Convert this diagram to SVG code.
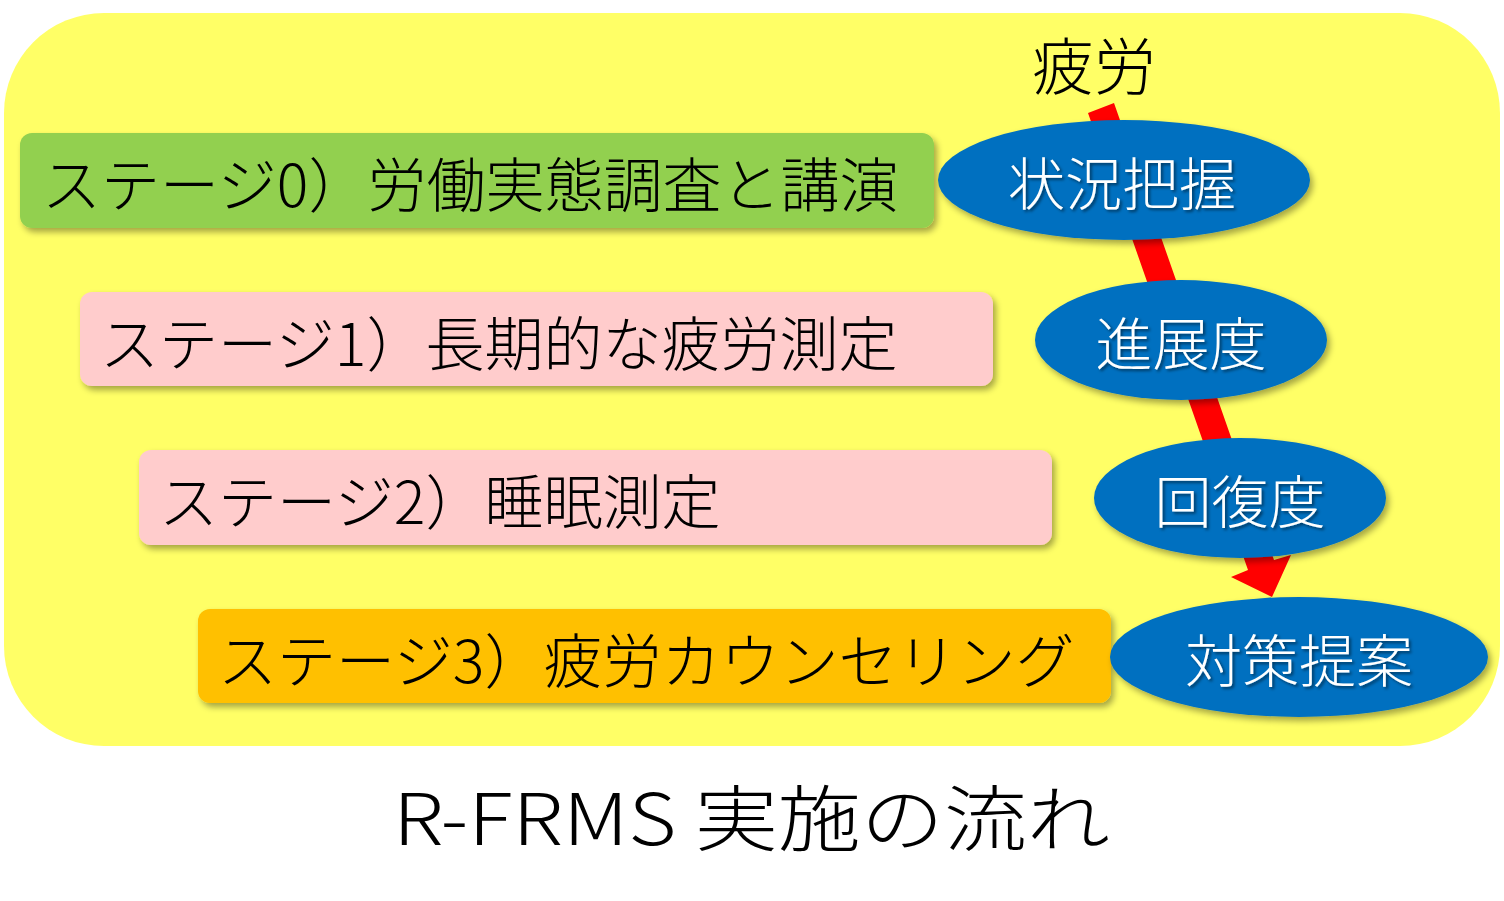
<svg xmlns="http://www.w3.org/2000/svg" width="1504" height="901" viewBox="0 0 1504 901">
<defs>
<filter id="sh" x="-10%" y="-20%" width="125%" height="150%">
<feDropShadow dx="3" dy="4" stdDeviation="3" flood-color="#000" flood-opacity="0.35"/>
</filter>
<filter id="tsh" x="-10%" y="-20%" width="125%" height="150%">
<feDropShadow dx="2" dy="2" stdDeviation="1.5" flood-color="#000" flood-opacity="0.5"/>
</filter>
<style>
.t{font-family:"Noto Sans CJK JP","Noto Sans",sans-serif;font-size:59px;font-weight:300;fill:#000}
.e{fill:#0070C0;filter:url(#sh)}
.et{font-family:"Noto Sans CJK JP","Noto Sans",sans-serif;font-size:57px;font-weight:300;fill:#fff;text-anchor:middle;filter:url(#tsh)}
.box{filter:url(#sh)}
</style>
</defs>
<rect x="0" y="0" width="1504" height="901" fill="#fff"/>
<rect id="bg" x="4" y="13" width="1496" height="733" rx="100" ry="100" fill="#FFFF66"/>
<g id="stage0"><rect class="box" x="20" y="133" width="914" height="95" rx="12" fill="#92D050"/><text class="t" x="42" y="207">ステージ0）労働実態調査と講演</text></g>
<g id="stage1"><rect class="box" x="80" y="292" width="913" height="94" rx="12" fill="#FFCCCC"/><text class="t" x="100" y="366">ステージ1）長期的な疲労測定</text></g>
<g id="stage2"><rect class="box" x="139" y="450" width="913" height="95" rx="12" fill="#FFCCCC"/><text class="t" x="159" y="524">ステージ2）睡眠測定</text></g>
<g id="stage3"><rect class="box" x="198" y="609" width="913" height="94" rx="12" fill="#FFC000"/><text class="t" x="218" y="683">ステージ3）疲労カウンセリング</text></g>
<g id="connectors"><polygon points="1088,113 1114,103 1274,560 1291,555 1272,597 1231,577 1248,570" fill="#FF0000"/></g>
<g id="fatigue"><text x="1094" y="90" font-family="'Noto Sans CJK JP','Noto Sans',sans-serif" font-size="62" font-weight="300" text-anchor="middle" fill="#000">疲労</text></g>
<g id="n1"><ellipse class="e" cx="1124" cy="180" rx="186" ry="60"/><text class="et" x="1122" y="205">状況把握</text></g>
<g id="n2"><ellipse class="e" cx="1181" cy="340" rx="146" ry="60"/><text class="et" x="1181" y="365">進展度</text></g>
<g id="n3"><ellipse class="e" cx="1240" cy="498" rx="146" ry="60"/><text class="et" x="1240" y="523">回復度</text></g>
<g id="n4"><ellipse class="e" cx="1299" cy="657" rx="189" ry="60"/><text class="et" x="1299" y="682">対策提案</text></g>
<text x="393" y="845" font-family="'Noto Sans CJK JP','Noto Sans',sans-serif" font-size="72" font-weight="300" fill="#000" textLength="717" lengthAdjust="spacingAndGlyphs">R-FRMS 実施の流れ</text>
</svg>
